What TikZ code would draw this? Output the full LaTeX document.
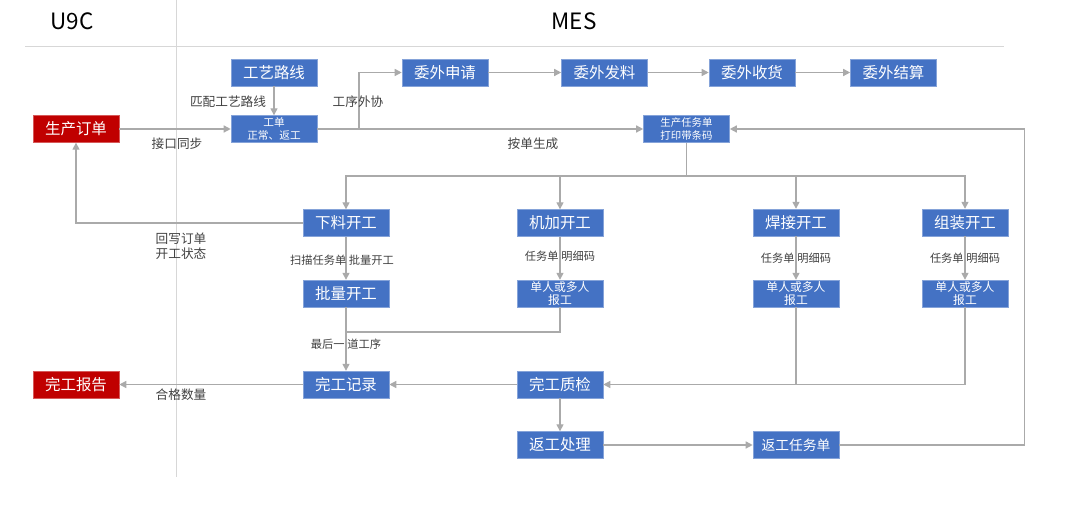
\documentclass[tikz,border=0pt]{standalone}
\usepackage{fontspec}
\setmainfont{Noto Sans CJK SC}
\usetikzlibrary{arrows.meta}
\usepackage{xcolor}
\definecolor{boxblue}{RGB}{68,114,196}
\definecolor{boxred}{RGB}{192,0,0}
\definecolor{linegray}{RGB}{170,170,170}
\definecolor{labelgray}{RGB}{64,64,64}
\definecolor{rulegray}{RGB}{215,215,215}

\begin{document}
\begin{tikzpicture}[x=0.025cm,y=-0.025cm]
  \tikzset{
    mesbox/.style={
      draw=boxblue!65!white,
      fill=boxblue,
      text=white,
      minimum width=2.15cm,
      minimum height=0.67cm,
      inner sep=0pt,
      font=\fontsize{11}{13}\selectfont
    },
    erpbox/.style={
      mesbox,
      draw=boxred!65!white,
      fill=boxred
    },
    smallbox/.style={
      mesbox,
      align=center,
      font=\fontsize{7.6}{8.8}\selectfont
    },
    conn/.style={
      draw=linegray,
      line width=1pt,
      -{Triangle[length=5pt,width=5pt]}
    },
    wire/.style={
      draw=linegray,
      line width=1pt
    },
    lbl/.style={
      text=labelgray,
      inner sep=0pt,
      font=\fontsize{9}{11}\selectfont
    }
  }
  \useasboundingbox (0,0) rectangle (1080,510);

  % Header
  \draw[rulegray, line width=0.6pt] (25,46) -- (1004,46);
  \draw[rulegray, line width=0.6pt] (176,0) -- (176,477);
  \node[font=\fontsize{16}{18}\selectfont] at (72,21) (u9c) {U9C};
  \node[font=\fontsize{16}{18}\selectfont] at (574,21) (mes) {MES};

  % U9C side
  \node[erpbox] at (76,129) (scdd) {生产订单};
  \node[erpbox] at (76,384.5) (wgbg) {完工报告};

  % Routing and outsourcing
  \node[mesbox] at (274,72.5) (gylx) {工艺路线};
  \node[smallbox] at (274,129) (gd) {工单\\正常、返工};
  \node[mesbox] at (445,72.5) (wwsq) {委外申请};
  \node[mesbox] at (604.5,72.5) (wwfl) {委外发料};
  \node[mesbox] at (752,72.5) (wwsh) {委外收货};
  \node[mesbox] at (893.5,72.5) (wwjs) {委外结算};
  \node[smallbox, font=\fontsize{7.4}{9.2}\selectfont] at (686.5,129) (scrw) {生产任务单\\打印带条码};

  % Start of work
  \node[mesbox] at (346,223) (xlkg) {下料开工};
  \node[mesbox] at (560,223) (jjkg) {机加开工};
  \node[mesbox] at (796,222.5) (hjkg) {焊接开工};
  \node[mesbox] at (965,222.5) (zzkg) {组装开工};

  % Reporting
  \node[mesbox] at (346,293.5) (plkg) {批量开工};
  \node[smallbox, font=\fontsize{8.4}{9.4}\selectfont] at (560,293.5) (jjbg) {单人或多人\\报工};
  \node[smallbox, font=\fontsize{8.4}{9.4}\selectfont] at (796,293.5) (hjbg) {单人或多人\\报工};
  \node[smallbox, font=\fontsize{8.4}{9.4}\selectfont] at (965,293.5) (zzbg) {单人或多人\\报工};

  % Completion and rework
  \node[mesbox] at (346,384.5) (wgjl) {完工记录};
  \node[mesbox] at (560,384.5) (wgzj) {完工质检};
  \node[mesbox] at (560,445) (fgcl) {返工处理};
  \node[mesbox, font=\fontsize{9.8}{12}\selectfont] at (796,445) (fgrw) {返工任务单};

  \coordinate (split) at (359,129);
  \coordinate (bus) at (686.5,176);
  \coordinate (join) at (346,332);

  % Connectors
  \draw[conn] (scdd) -- (gd);
  \draw[conn] (gylx) -- (gd);
  \draw[conn] (gd) -- (scrw);
  \draw[conn] (split) |- (wwsq.west);
  \draw[conn] (wwsq) -- (wwfl);
  \draw[conn] (wwfl) -- (wwsh);
  \draw[conn] (wwsh) -- (wwjs);
  \draw[wire] (scrw.south) -- (bus);
  \draw[conn] (bus) -| (xlkg.north);
  \draw[conn] (bus) -| (jjkg.north);
  \draw[conn] (bus) -| (hjkg.north);
  \draw[conn] (bus) -| (zzkg.north);
  \draw[conn] (xlkg.west) -| (scdd.south);
  \draw[conn] (xlkg) -- (plkg);
  \draw[conn] (jjkg) -- (jjbg);
  \draw[conn] (hjkg) -- (hjbg);
  \draw[conn] (zzkg) -- (zzbg);
  \draw[conn] (plkg) -- (wgjl);
  \draw[wire] (jjbg.south) |- (join);
  \draw[wire] (hjbg.south) -- (hjbg.south |- wgzj.east);
  \draw[conn] (zzbg.south) |- (wgzj.east);
  \draw[conn] (wgzj) -- (wgjl);
  \draw[conn] (wgjl) -- (wgbg);
  \draw[conn] (wgzj) -- (fgcl);
  \draw[conn] (fgcl) -- (fgrw);
  \draw[conn] (fgrw.east) -- ++(185,0) |- (scrw.east);

  % Labels
  \node[lbl] at (177,144) (l1) {接口同步};
  \node[lbl] at (228,102) (l2) {匹配工艺路线};
  \node[lbl] at (358,102) (l3) {工序外协};
  \node[lbl] at (533,144) (l4) {按单生成};
  \node[lbl, align=left] at (181,246) (l5) {回写订单\\开工状态};
  \node[lbl, font=\fontsize{8}{10}\selectfont] at (342,260) (l6) {扫描任务单 批量开工};
  \node[lbl, font=\fontsize{8}{10}\selectfont] at (560,256) (l7) {任务单 明细码};
  \node[lbl, font=\fontsize{8}{10}\selectfont] at (796,258) (l8) {任务单 明细码};
  \node[lbl, font=\fontsize{8}{10}\selectfont] at (965,258) (l9) {任务单 明细码};
  \node[lbl, font=\fontsize{8}{10}\selectfont] at (346,344) (l10) {最后一 道工序};
  \node[lbl] at (181,395) (l11) {合格数量};
\end{tikzpicture}
\end{document}
